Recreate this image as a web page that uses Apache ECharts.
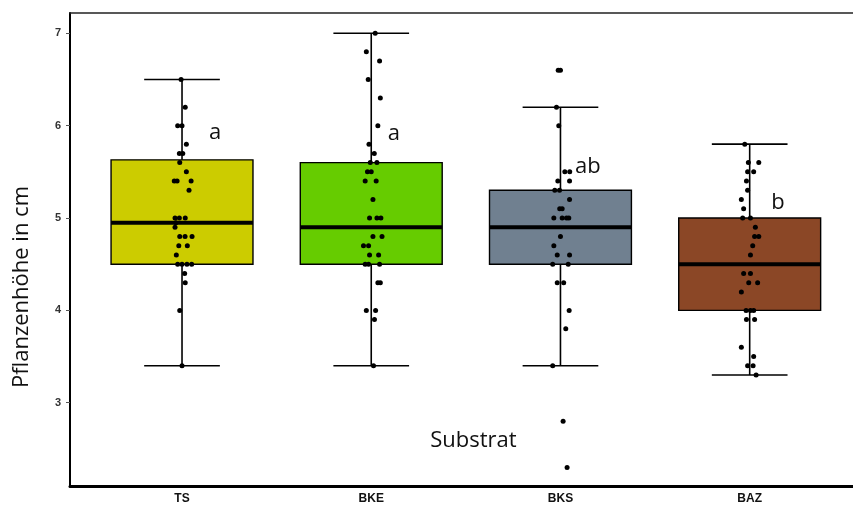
<!DOCTYPE html>
<html><head><meta charset="utf-8">
<script src="https://cdn.jsdelivr.net/npm/echarts@6/dist/echarts.min.js"></script>
<style>html,body{margin:0;padding:0;background:#fff}#c{width:853px;height:508px}</style>
</head><body><div id="c"></div>
<script>
const categories = ['TS', 'BKE', 'BKS', 'BAZ'];
const boxColors = ['#CCCC00', '#66CC00', '#708090', '#8B4726'];
// [lower whisker, Q1, median, Q3, upper whisker]
const boxStats = [
  [3.4, 4.5, 4.95, 5.63, 6.5],
  [3.4, 4.5, 4.9, 5.6, 7.0],
  [3.4, 4.5, 4.9, 5.3, 6.2],
  [3.3, 4.0, 4.5, 5.0, 5.8]
];
const yTicks = [3, 4, 5, 6, 7];
const letters = ['a', 'a', 'ab', 'b'];

const tsValues = [6.5, 6.2, 6.0, 6.0, 5.8, 5.7, 5.7, 5.6, 5.5, 5.4, 5.4, 5.4, 5.3, 5.0, 5.0, 5.0, 4.95, 4.9, 4.8, 4.8, 4.8, 4.7, 4.7, 4.6, 4.5, 4.5, 4.5, 4.5, 4.4, 4.3, 4.0, 3.4];
const tsJitter = [-0.005, 0.017, -0.023, 0, 0.023, -0.014, 0.004, -0.012, 0.023, -0.041, -0.026, 0.048, 0.037, -0.037, -0.014, 0.017, -0.032, -0.037, -0.012, 0.016, 0.053, -0.017, 0.028, -0.030, -0.023, 0, 0.026, 0.051, 0.014, 0.017, -0.012, 0];

const bkeValues = [7.0, 6.8, 6.7, 6.5, 6.3, 6.0, 5.8, 5.7, 5.6, 5.6, 5.5, 5.5, 5.4, 5.4, 5.2, 5.0, 5.0, 5.0, 4.8, 4.8, 4.7, 4.7, 4.6, 4.6, 4.5, 4.5, 4.5, 4.3, 4.3, 4.0, 4.0, 3.9, 3.4];
const bkeJitter = [0.021, -0.026, 0.044, -0.016, 0.048, 0.035, -0.012, 0.016, -0.005, 0.030, -0.020, 0, -0.032, 0.026, 0.009, -0.009, 0.030, 0.051, 0.009, 0.057, -0.041, -0.014, -0.009, 0.039, -0.032, -0.014, 0.044, 0.035, 0.048, -0.026, 0.023, 0.017, 0.012];

const bksValues = [6.6, 6.6, 6.2, 6.0, 5.5, 5.5, 5.4, 5.4, 5.3, 5.3, 5.2, 5.1, 5.1, 5.0, 5.0, 5.0, 5.0, 4.8, 4.7, 4.6, 4.6, 4.5, 4.5, 4.3, 4.3, 4.0, 3.8, 3.4, 2.8, 2.3];
const bksJitter = [-0.012, 0, -0.021, -0.009, 0.023, 0.049, -0.014, 0.048, -0.030, -0.005, 0.048, -0.004, 0.009, -0.035, 0.009, 0.032, 0.044, 0, -0.035, -0.017, 0.048, -0.041, 0.041, -0.017, 0.017, 0.046, 0.028, -0.041, 0.014, 0.035];

const bazValues = [5.8, 5.6, 5.6, 5.5, 5.5, 5.4, 5.3, 5.2, 5.1, 5.0, 5.0, 4.9, 4.8, 4.8, 4.7, 4.6, 4.4, 4.4, 4.3, 4.3, 4.2, 4.0, 4.0, 4.0, 3.9, 3.9, 3.6, 3.5, 3.4, 3.4, 3.3];
const bazJitter = [-0.026, -0.007, 0.048, -0.011, 0.021, -0.017, -0.011, -0.044, -0.032, -0.037, 0.004, 0.030, 0.026, 0.048, 0.016, 0.004, -0.032, 0.004, -0.005, 0.042, -0.044, -0.019, 0.004, 0.021, -0.017, 0.026, -0.044, 0.021, -0.011, 0.018, 0.034];

// annotation positions in data units [x, y]
const letterPos = [[1.175, 5.92], [2.12, 5.91], [3.145, 5.56], [4.15, 5.17]];
const substratLabel = 'Substrat';
const substratPos = [2.54, 2.585];
const yTitle = 'Pflanzenhöhe in cm';

const groupValues = [tsValues, bkeValues, bksValues, bazValues];
const groupJitter = [tsJitter, bkeJitter, bksJitter, bazJitter];

const pointData = [];
groupValues.forEach((vals, g) => {
  vals.forEach((v, k) => pointData.push([g + 1 + groupJitter[g][k], v]));
});
const boxData = boxStats.map((s, i) => [i + 1].concat(s));

const BOX_HALF = 0.375, CAP_HALF = 0.2;

const chart = echarts.init(document.getElementById('c'), null, {renderer: 'canvas'});
chart.setOption({
  animation: false,
  backgroundColor: '#ffffff',
  grid: {left: 70, right: 0, top: 13, bottom: 21.5, containLabel: false},
  xAxis: [{
    type: 'value', min: 0.408, max: 4.546, position: 'bottom',
    axisLine: {show: true, onZero: false, lineStyle: {color: '#000', width: 3}},
    axisTick: {show: false, customValues: [1, 2, 3, 4]},
    splitLine: {show: false},
    axisLabel: {
      show: true, customValues: [1, 2, 3, 4], margin: 6,
      formatter: v => categories[Math.round(v) - 1] || '',
      fontFamily: 'Liberation Sans', fontWeight: 'bold', fontSize: 12, color: '#111'
    }
  }, {
    type: 'value', min: 0.408, max: 4.546, position: 'top',
    axisLine: {show: true, onZero: false, lineStyle: {color: '#222', width: 1.5}},
    axisTick: {show: false}, axisLabel: {show: false}, splitLine: {show: false}
  }],
  yAxis: {
    type: 'value', min: 2.093, max: 7.22,
    axisLine: {show: true, onZero: false, lineStyle: {color: '#000', width: 2}},
    axisTick: {show: true, length: 4, customValues: yTicks, lineStyle: {color: '#555', width: 1}},
    splitLine: {show: false},
    axisLabel: {
      show: true, customValues: yTicks, margin: 9,
      fontFamily: 'Liberation Sans Narrow, Liberation Sans', fontWeight: 'bold', fontSize: 11, color: '#333'
    }
  },
  series: [{
    type: 'custom',
    xAxisIndex: 0,
    data: boxData,
    encode: {x: 0, y: [1, 2, 3, 4, 5]},
    z: 2,
    renderItem: function (params, api) {
      const x = api.value(0);
      const lo = api.value(1), q1 = api.value(2), med = api.value(3), q3 = api.value(4), hi = api.value(5);
      const pLo = api.coord([x, lo]), pHi = api.coord([x, hi]);
      const capL1 = api.coord([x - CAP_HALF, lo]), capR1 = api.coord([x + CAP_HALF, lo]);
      const capL2 = api.coord([x - CAP_HALF, hi]), capR2 = api.coord([x + CAP_HALF, hi]);
      const bTL = api.coord([x - BOX_HALF, q3]), bBR = api.coord([x + BOX_HALF, q1]);
      const mL = api.coord([x - BOX_HALF, med]), mR = api.coord([x + BOX_HALF, med]);
      const ls = {stroke: '#000', lineWidth: 1.6};
      return {
        type: 'group',
        children: [
          {type: 'line', shape: {x1: pLo[0], y1: pLo[1], x2: pHi[0], y2: pHi[1]}, style: ls},
          {type: 'line', shape: {x1: capL1[0], y1: capL1[1], x2: capR1[0], y2: capR1[1]}, style: ls},
          {type: 'line', shape: {x1: capL2[0], y1: capL2[1], x2: capR2[0], y2: capR2[1]}, style: ls},
          {type: 'rect', shape: {x: bTL[0], y: bTL[1], width: bBR[0] - bTL[0], height: bBR[1] - bTL[1]},
            style: {fill: boxColors[params.dataIndex], stroke: '#000', lineWidth: 1.4}},
          {type: 'line', shape: {x1: mL[0], y1: mL[1], x2: mR[0], y2: mR[1]}, style: {stroke: '#000', lineWidth: 4}}
        ]
      };
    }
  }, {
    type: 'scatter',
    xAxisIndex: 0,
    data: pointData,
    symbol: 'circle',
    symbolSize: 5,
    itemStyle: {color: '#000', opacity: 1},
    z: 5
  }, {
    type: 'custom',
    xAxisIndex: 0,
    data: letterPos.map((p, i) => [p[0], p[1], letters[i]]).concat([[substratPos[0], substratPos[1], substratLabel]]),
    encode: {x: 0, y: 1},
    z: 6,
    renderItem: function (params, api) {
      const p = api.coord([api.value(0), api.value(1)]);
      const txt = params.dataIndex < letters.length ? letters[params.dataIndex] : substratLabel;
      return {
        type: 'text', x: p[0], y: p[1],
        style: {text: txt, fill: '#111', font: '22px "Open Sans"', textAlign: 'center', textVerticalAlign: 'middle'}
      };
    }
  }],
  graphic: [{
    type: 'text', x: 22, y: 287, rotation: Math.PI / 2,
    style: {text: yTitle, fill: '#111', font: '22px "Open Sans"', textAlign: 'center', textVerticalAlign: 'middle'}
  }]
});
</script></body></html>
